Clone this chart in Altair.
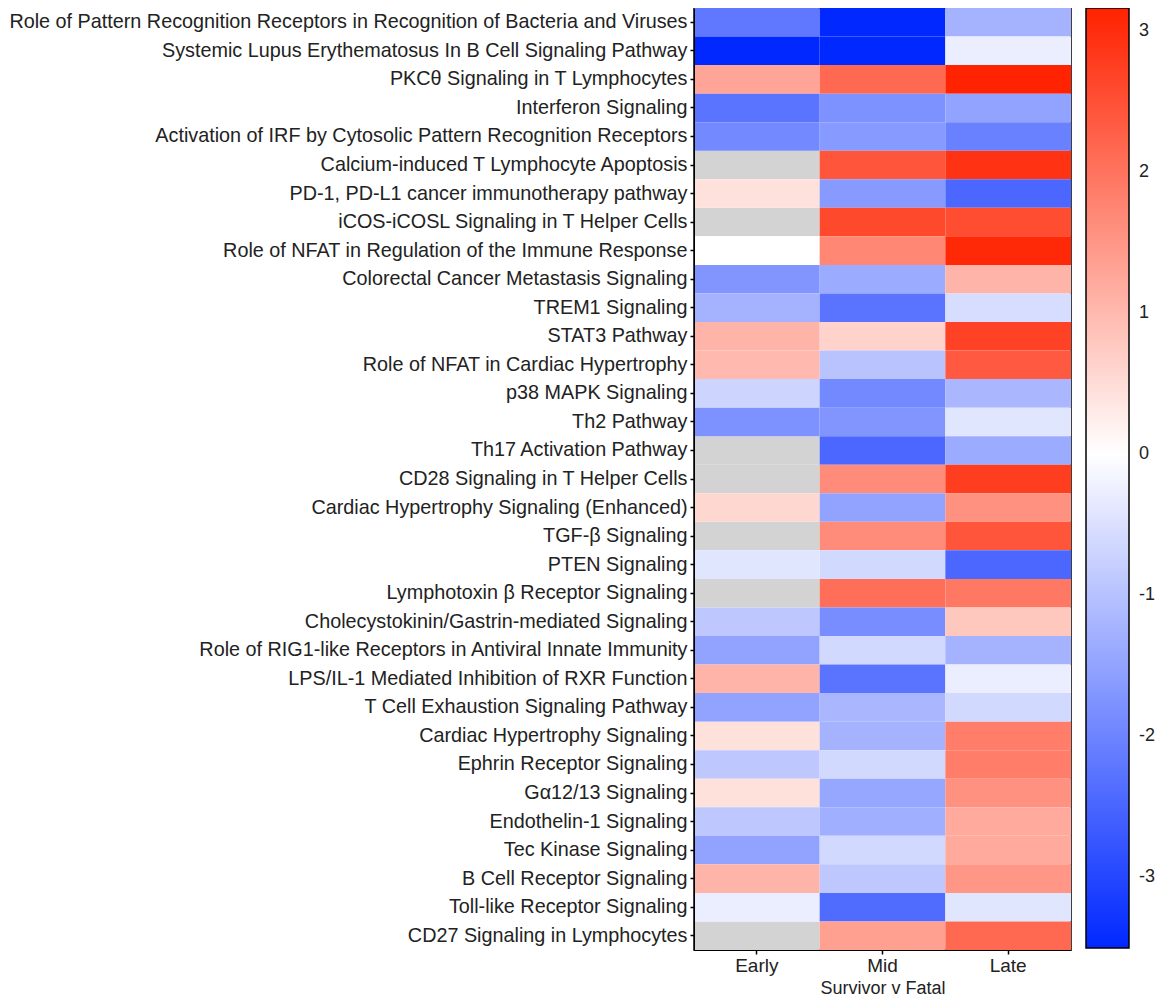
import altair as alt
import pandas as pd

pathways = [
    "Role of Pattern Recognition Receptors in Recognition of Bacteria and Viruses",
    "Systemic Lupus Erythematosus In B Cell Signaling Pathway",
    "PKCθ Signaling in T Lymphocytes",
    "Interferon Signaling",
    "Activation of IRF by Cytosolic Pattern Recognition Receptors",
    "Calcium-induced T Lymphocyte Apoptosis",
    "PD-1, PD-L1 cancer immunotherapy pathway",
    "iCOS-iCOSL Signaling in T Helper Cells",
    "Role of NFAT in Regulation of the Immune Response",
    "Colorectal Cancer Metastasis Signaling",
    "TREM1 Signaling",
    "STAT3 Pathway",
    "Role of NFAT in Cardiac Hypertrophy",
    "p38 MAPK Signaling",
    "Th2 Pathway",
    "Th17 Activation Pathway",
    "CD28 Signaling in T Helper Cells",
    "Cardiac Hypertrophy Signaling (Enhanced)",
    "TGF-β Signaling",
    "PTEN Signaling",
    "Lymphotoxin β Receptor Signaling",
    "Cholecystokinin/Gastrin-mediated Signaling",
    "Role of RIG1-like Receptors in Antiviral Innate Immunity",
    "LPS/IL-1 Mediated Inhibition of RXR Function",
    "T Cell Exhaustion Signaling Pathway",
    "Cardiac Hypertrophy Signaling",
    "Ephrin Receptor Signaling",
    "Gα12/13 Signaling",
    "Endothelin-1 Signaling",
    "Tec Kinase Signaling",
    "B Cell Receptor Signaling",
    "Toll-like Receptor Signaling",
    "CD27 Signaling in Lymphocytes",
]

stages = ["Early", "Mid", "Late"]

early = [-2.2, -3.5, 1.29, -2.26, -1.92, None, 0.43, None, 0.0, -1.72, -1.24,
         1.07, 1.0, -0.69, -1.78, None, None, 0.57, None, -0.41, None, -0.89,
         -1.5, 1.07, -1.5, 0.43, -0.89, 0.43, -0.89, -1.5, 1.07, -0.27, None]
mid = [-3.5, -3.5, 2.14, -1.78, -1.65, 2.43, -1.65, 2.6, 1.72, -1.37, -2.26,
       0.64, -0.96, -1.92, -1.72, -2.47, 1.65, -1.5, 1.65, -0.62, 2.07, -1.85,
       -0.62, -2.26, -1.17, -1.24, -0.62, -1.44, -1.3, -0.62, -0.89, -2.4, 1.36]
late = [-1.24, -0.27, 3.15, -1.5, -2.06, 2.93, -2.47, 2.55, 3.07, 1.07, -0.55,
        2.7, 2.36, -1.17, -0.41, -1.37, 2.78, 1.57, 2.43, -2.47, 1.93, 0.79,
        -1.24, -0.27, -0.62, 1.86, 1.86, 1.57, 1.22, 1.22, 1.5, -0.41, 2.14]

rows = []
for i, p in enumerate(pathways):
    for s, col in zip(stages, [early, mid, late]):
        rows.append({"pathway": p, "stage": s, "z": col[i]})
df = pd.DataFrame(rows)

FONT = "Liberation Sans"
TXT = "#222222"

x_enc = alt.X("stage:N", sort=stages, title="Survivor v Fatal",
              scale=alt.Scale(paddingInner=0, paddingOuter=0),
              axis=alt.Axis(labelAngle=0, tickSize=4, labelPadding=2, titlePadding=4,
                            labelFont=FONT, titleFont=FONT, labelFontSize=19,
                            titleFontSize=18, labelColor=TXT, titleColor=TXT,
                            titleFontWeight="normal", tickColor="black",
                            domainColor="black", tickWidth=1.5))
y_enc = alt.Y("pathway:N", sort=pathways, title=None,
              scale=alt.Scale(paddingInner=0, paddingOuter=0),
              axis=alt.Axis(labelFontSize=19.8, tickSize=4, labelFont=FONT,
                            labelColor=TXT, tickColor="black", domainColor="black",
                            tickWidth=1.5, labelPadding=3, labelLimit=1000))

base = alt.Chart(df)

gray = base.transform_filter("datum.z === null").mark_rect(color="#d3d3d3").encode(
    x=x_enc, y=y_enc)

colored = base.transform_filter("datum.z !== null").mark_rect().encode(
    x=x_enc, y=y_enc,
    color=alt.Color("z:Q", title=None,
                    scale=alt.Scale(domain=[-3.5, 0, 3.16],
                                    range=["#0028ff", "#ffffff", "#ff2200"],
                                    interpolate="rgb"),
                    legend=alt.Legend(values=[-3, -2, -1, 0, 1, 2, 3],
                                      labelExpr="datum.value + ''",
                                      gradientLength=940, gradientThickness=43,
                                      gradientStrokeColor="black",
                                      gradientStrokeWidth=1.5,
                                      labelFontSize=18, labelFont=FONT,
                                      labelColor=TXT, labelOffset=10,
                                      offset=15, padding=0)),
)

chart = alt.layer(gray, colored).properties(
    width=377, height=942,
    padding={"left": 0, "top": 0, "right": 0, "bottom": 0}
).configure_view(
    stroke="black", strokeWidth=1.5
)

chart.save("out.html", embed_options={"renderer": "svg", "actions": False})
